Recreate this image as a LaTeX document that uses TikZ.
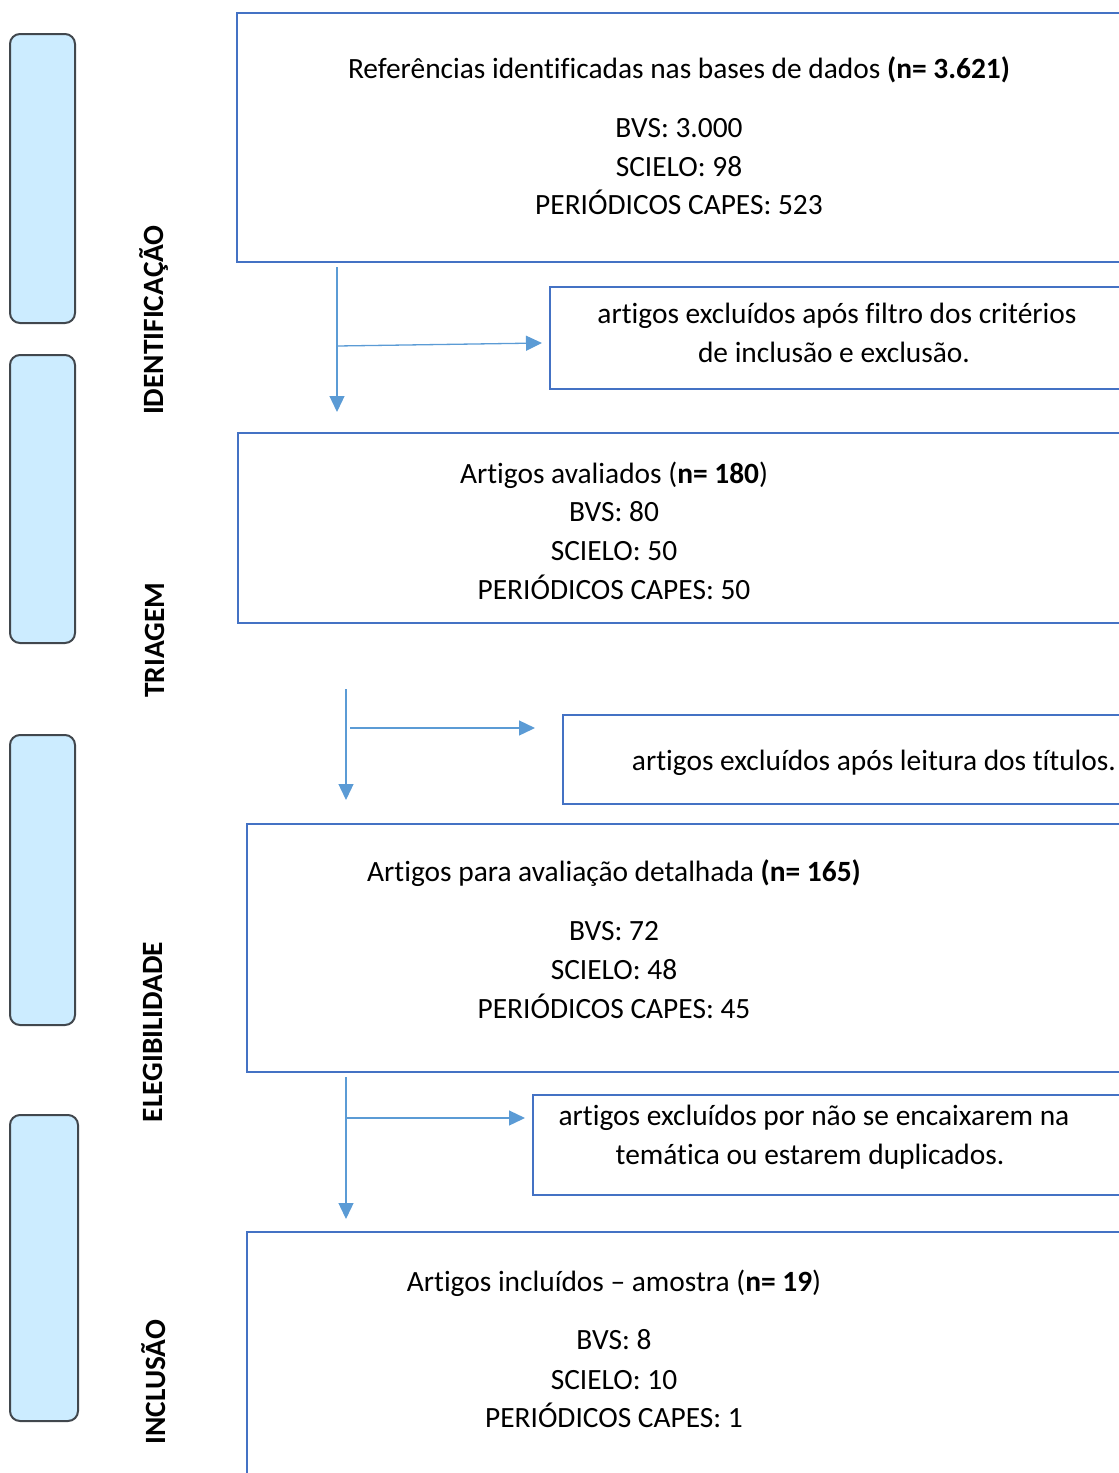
\documentclass[tikz,border=0pt]{standalone}
\usepackage{fontspec}
\setmainfont{Carlito}[Ligatures=NoCommon]
\usetikzlibrary{arrows.meta}
\definecolor{boxblue}{RGB}{68,114,196}
\definecolor{arrblue}{RGB}{91,155,213}
\definecolor{phasefill}{RGB}{204,236,255}
\definecolor{phasedraw}{RGB}{65,71,77}
\begin{document}
\begin{tikzpicture}[x=1pt,y=-1pt,
  every node/.style={font=\fontsize{29.4}{35}\selectfont, inner sep=0pt, outer sep=0pt},
  mainbox/.style={draw=boxblue, line width=1.3pt, rectangle, anchor=north west},
  phasebox/.style={draw=phasedraw, fill=phasefill, line width=2pt, rounded corners=10pt, rectangle, anchor=north west},
  phaselabel/.style={rotate=90, anchor=base, font=\fontsize{29.4}{35}\selectfont\bfseries},
  txt/.style={anchor=base},
  arr/.style={draw=arrblue, line width=1.3pt, -{Triangle[length=16pt,width=15pt]}}]
\useasboundingbox (0,0) rectangle (1119,1473);
\clip (0,0) rectangle (1119,1473);

% phase boxes
\node[phasebox, minimum width=65pt, minimum height=289pt] (p1) at (10,34) {};
\node[phasebox, minimum width=65pt, minimum height=288pt] (p2) at (10,355) {};
\node[phasebox, minimum width=65pt, minimum height=290pt] (p3) at (10,735) {};
\node[phasebox, minimum width=68pt, minimum height=306pt] (p4) at (10,1115) {};

% phase labels
\node[phaselabel] (l1) at (163,320) {IDENTIFICAÇÃO};
\node[phaselabel] (l2) at (164,640) {TRIAGEM};
\node[phaselabel] (l3) at (162,1032) {ELEGIBILIDADE};
\node[phaselabel] (l4) at (165,1382) {INCLUSÃO};

% main boxes
\node[mainbox, minimum width=903pt, minimum height=249pt] (b1) at (237,13) {};
\node[mainbox, minimum width=590pt, minimum height=102pt] (e1) at (550,287) {};
\node[mainbox, minimum width=902pt, minimum height=190pt] (b2) at (238,433) {};
\node[mainbox, minimum width=577pt, minimum height=89pt] (e2) at (563,715) {};
\node[mainbox, minimum width=893pt, minimum height=248pt] (b3) at (247,824) {};
\node[mainbox, minimum width=607pt, minimum height=100pt] (e3) at (533,1095) {};
\node[mainbox, minimum width=893pt, minimum height=280pt] (b4) at (247,1232) {};

% texts
\node[txt] (t11) at (679,78) {Referências identificadas nas bases de dados \textbf{(n= 3.621)}};
\node[txt] (t12) at (679,137) {BVS: 3.000};
\node[txt] (t13) at (679,176) {SCIELO: 98};
\node[txt] (t14) at (679,214) {PERIÓDICOS CAPES: 523};

\node[txt] (te11) at (837,323) {artigos excluídos após filtro dos critérios};
\node[txt] (te12) at (834,362) {de inclusão e exclusão.};

\node[txt] (t21) at (614,483) {Artigos avaliados (\textbf{n= 180})};
\node[txt] (t22) at (614,521) {BVS: 80};
\node[txt] (t23) at (614,560) {SCIELO: 50};
\node[txt] (t24) at (614,599) {PERIÓDICOS CAPES: 50};

\node[txt] (te21) at (874,770) {artigos excluídos após leitura dos títulos.};

\node[txt] (t31) at (614,881) {Artigos para avaliação detalhada \textbf{(n= 165)}};
\node[txt] (t32) at (614,940) {BVS: 72};
\node[txt] (t33) at (614,979) {SCIELO: 48};
\node[txt] (t34) at (614,1018) {PERIÓDICOS CAPES: 45};

\node[txt] (te31) at (814,1125) {artigos excluídos por não se encaixarem na};
\node[txt] (te32) at (810,1164) {temática ou estarem duplicados.};

\node[txt] (t41) at (614,1291) {Artigos incluídos -- amostra (\textbf{n= 19})};
\node[txt] (t42) at (614,1349) {BVS: 8};
\node[txt] (t43) at (614,1389) {SCIELO: 10};
\node[txt] (t44) at (614,1427) {PERIÓDICOS CAPES: 1};

% connectors
\coordinate (v1) at (337,0);
\coordinate (v2) at (346,0);
\coordinate (h1) at (337,346);
\coordinate (h1end) at (542,343);
\coordinate (h2) at (350,728);
\coordinate (h3) at (346,1118);

\draw[arr, shorten <=5pt, shorten >=21pt] (b1.south -| v1) -- (b2.north -| v1);
\draw[arr] (h1) -- (h1end);

\draw[arr, shorten <=66pt, shorten >=24pt] (b2.south -| v2) -- (b3.north -| v2);
\draw[arr, shorten >=28pt] (h2) -- (e2.west |- h2);

\draw[arr, shorten <=5pt, shorten >=13pt] (b3.south -| v2) -- (b4.north -| v2);
\draw[arr, shorten >=8pt] (h3) -- (e3.west |- h3);
\end{tikzpicture}
\end{document}
